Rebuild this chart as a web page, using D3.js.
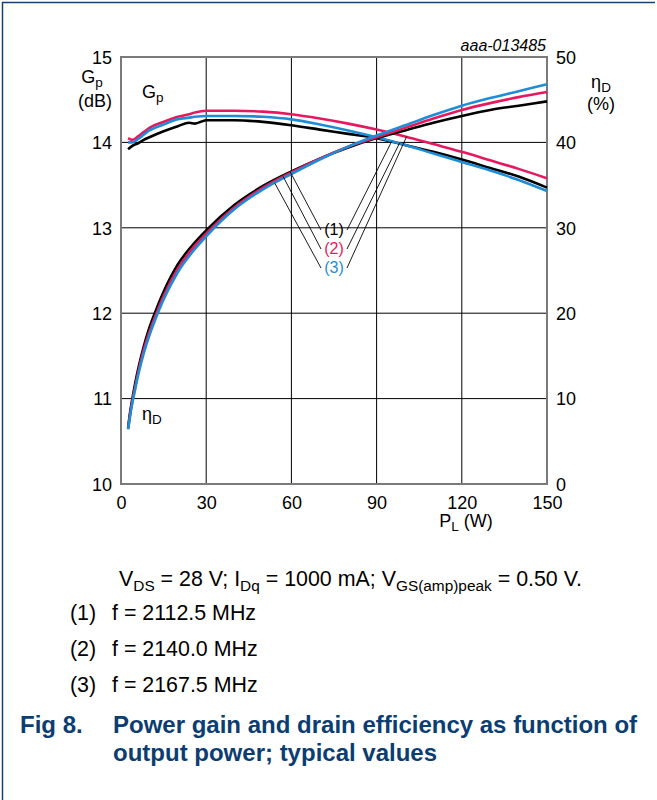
<!DOCTYPE html>
<html>
<head>
<meta charset="utf-8">
<script src="https://cdn.jsdelivr.net/npm/d3@7"></script>
<style>
  html, body { margin: 0; padding: 0; background: #fff; }
  svg { display: block; }
  text { font-family: "Liberation Sans", Arial, sans-serif; }
</style>
</head>
<body>
<svg id="chart" width="657" height="800"></svg>
<script>
// ---- data ----
const xTicks = [0, 30, 60, 90, 120, 150];
const gainTicks = [10, 11, 12, 13, 14, 15];
const effTicks = [0, 10, 20, 30, 40, 50];

const effPower = [2.5, 3, 4, 5, 6, 8, 10, 12, 15, 20, 25, 30, 40, 50, 60, 70, 80, 90, 100, 110, 120, 130, 140, 150];
const eff1 = [6.6, 7.9, 10.0, 11.8, 13.4, 16.1, 18.3, 20.1, 22.5, 25.7, 27.9, 29.7, 32.7, 34.9, 36.6, 38.1, 39.4, 40.5, 41.4, 42.3, 43.1, 43.8, 44.3, 44.8];
const eff2 = [6.5, 7.7, 9.7, 11.4, 13.0, 15.7, 17.8, 19.6, 22.0, 25.2, 27.5, 29.3, 32.4, 34.7, 36.5, 38.1, 39.5, 40.6, 41.7, 42.8, 43.8, 44.6, 45.3, 45.9];
const eff3 = [6.4, 7.5, 9.5, 11.1, 12.7, 15.3, 17.4, 19.2, 21.6, 24.8, 27.1, 29.0, 32.2, 34.5, 36.3, 38.0, 39.5, 40.8, 42.0, 43.2, 44.3, 45.2, 46.0, 46.8];

const gainPower = [2.5, 4, 6, 8, 10, 15, 20, 24, 26, 30, 40, 50, 60, 70, 80, 90, 100, 110, 120, 130, 140, 150];
const gain1 = [13.92, 13.96, 13.99, 14.03, 14.06, 14.13, 14.19, 14.23, 14.22, 14.26, 14.26, 14.24, 14.20, 14.15, 14.10, 14.05, 13.97, 13.89, 13.80, 13.70, 13.60, 13.47];
const gain2 = [14.05, 14.03, 14.07, 14.12, 14.17, 14.24, 14.30, 14.33, 14.35, 14.37, 14.37, 14.36, 14.33, 14.28, 14.22, 14.15, 14.07, 13.98, 13.89, 13.79, 13.69, 13.58];
const gain3 = [14.00, 14.00, 14.04, 14.09, 14.14, 14.21, 14.27, 14.29, 14.30, 14.31, 14.31, 14.30, 14.27, 14.21, 14.14, 14.06, 13.97, 13.87, 13.77, 13.67, 13.56, 13.43];

const seriesNames = ["(1)", "(2)", "(3)"];
const seriesColors = ["#000000", "#e6195f", "#1f8dd6"];
// leader line targets: efficiency curve points (P, %) and gain curve points (P, dB)
const leaderEffP = [59.5, 57.1, 54.2];
const leaderEffV = [36.6, 36.0, 35.2];
const leaderGainP = [95.3, 98.2, 100.6];
const leaderGainV = [14.01, 14.00, 14.07];

const noteLines = [
  ["(1)", "f = 2112.5 MHz"],
  ["(2)", "f = 2140.0 MHz"],
  ["(3)", "f = 2167.5 MHz"]
];

// ---- layout ----
const svg = d3.select("#chart");
const L = 121, R = 547, T = 57, B = 484;
const x = d3.scaleLinear().domain([0, 150]).range([L, R]);
const yG = d3.scaleLinear().domain([10, 15]).range([B, T]);
const yE = d3.scaleLinear().domain([0, 50]).range([B, T]);

// frame border of the figure
const navy = "#17406f";
svg.append("line").attr("x1", 2).attr("x2", 655).attr("y1", 2.5).attr("y2", 2.5).attr("stroke", navy).attr("stroke-width", 1.5);
svg.append("line").attr("x1", 2.5).attr("x2", 2.5).attr("y1", 2).attr("y2", 800).attr("stroke", navy).attr("stroke-width", 1.5);

// grid
const grid = svg.append("g");
xTicks.slice(1, -1).forEach(v => {
  grid.append("line").attr("x1", x(v)).attr("x2", x(v)).attr("y1", T).attr("y2", B).attr("stroke", "#000").attr("stroke-width", 1);
});
gainTicks.slice(1, -1).forEach(v => {
  grid.append("line").attr("x1", L).attr("x2", R).attr("y1", yG(v)).attr("y2", yG(v)).attr("stroke", "#000").attr("stroke-width", 1);
});
svg.append("rect").attr("x", L).attr("y", T).attr("width", R - L).attr("height", B - T)
  .attr("fill", "none").attr("stroke", "#7a7a7a").attr("stroke-width", 2);

// axes via d3 axis generators (labels only)
const fs = 18;
const axB = d3.axisBottom(x).tickValues(xTicks).tickSize(0).tickPadding(0);
const gB = svg.append("g").attr("transform", `translate(0,${B})`).call(axB);
const axLft = d3.axisLeft(yG).tickValues(gainTicks).tickSize(0).tickPadding(0).tickFormat(d3.format("d"));
const gL = svg.append("g").attr("transform", `translate(${L},0)`).call(axLft);
const axRt = d3.axisRight(yE).tickValues(effTicks).tickSize(0).tickPadding(0).tickFormat(d3.format("d"));
const gR = svg.append("g").attr("transform", `translate(${R},0)`).call(axRt);
[gB, gL, gR].forEach(g => {
  g.select(".domain").remove();
  g.selectAll("text").attr("font-size", fs).attr("fill", "#000").attr("font-family", "Liberation Sans, Arial, sans-serif");
});
gB.selectAll("text").attr("dy", null).attr("y", 25);
gL.selectAll("text").attr("x", -9).attr("dy", "0.35em");
gR.selectAll("text").attr("x", 9).attr("dy", "0.35em");

// axis titles
function subText(sel, xx, yy, main, sub, size, anchor) {
  const t = sel.append("text").attr("x", xx).attr("y", yy).attr("font-size", size).attr("text-anchor", anchor || "start");
  t.append("tspan").text(main);
  t.append("tspan").attr("font-size", size * 0.75).attr("dy", size * 0.22).text(sub);
  return t;
}
subText(svg, 92, 83, "G", "p", fs, "middle");
svg.append("text").attr("x", 95).attr("y", 107).attr("font-size", fs).attr("text-anchor", "middle").text("(dB)");
subText(svg, 601, 88, "η", "D", fs, "middle");
svg.append("text").attr("x", 601).attr("y", 110).attr("font-size", fs).attr("text-anchor", "middle").text("(%)");
const plT = subText(svg, 466, 527, "P", "L", fs, "middle");
plT.append("tspan").attr("dy", -fs * 0.22).text(" (W)");
svg.append("text").attr("x", 546).attr("y", 51).attr("font-size", 16).attr("font-style", "italic").attr("text-anchor", "end").text("aaa-013485");

// in-plot curve labels
subText(svg, 142, 98, "G", "p", fs, "start");
subText(svg, 142, 420, "η", "D", fs, "start");

// curves
const effSeries = [eff1, eff2, eff3];
const gainSeries = [gain1, gain2, gain3];
const lineE = d3.line().x(d => x(d[0])).y(d => yE(d[1])).curve(d3.curveMonotoneX);
const lineG = d3.line().x(d => x(d[0])).y(d => yG(d[1])).curve(d3.curveMonotoneX);
const curves = svg.append("g").attr("fill", "none").attr("stroke-width", 2.6).attr("stroke-linejoin", "round");
[0, 1, 2].forEach(i => {
  curves.append("path").attr("d", lineG(gainPower.map((p, j) => [p, gainSeries[i][j]]))).attr("stroke", seriesColors[i]);
});
[0, 1, 2].forEach(i => {
  curves.append("path").attr("d", lineE(effPower.map((p, j) => [p, effSeries[i][j]]))).attr("stroke", seriesColors[i]);
});

// leader lines and labels
const labY = [235, 254, 273];
[0, 1, 2].forEach(i => {
  const ly = labY[i] - 5;
  svg.append("line").attr("x1", 321).attr("y1", ly).attr("x2", x(leaderEffP[i])).attr("y2", yE(leaderEffV[i]))
    .attr("stroke", "#000").attr("stroke-width", 0.9);
  svg.append("line").attr("x1", 347).attr("y1", ly).attr("x2", x(leaderGainP[i])).attr("y2", yG(leaderGainV[i]))
    .attr("stroke", "#000").attr("stroke-width", 0.9);
  svg.append("text").attr("x", 334).attr("y", labY[i]).attr("font-size", 16).attr("text-anchor", "middle")
    .attr("fill", seriesColors[i]).text(seriesNames[i]);
});

// notes
const nfs = 21.4;
const cond = svg.append("text").attr("x", 119).attr("y", 586).attr("font-size", nfs);
cond.append("tspan").text("V");
cond.append("tspan").attr("font-size", nfs * 0.72).attr("dy", 5).text("DS");
cond.append("tspan").attr("dy", -5).text(" = 28 V; I");
cond.append("tspan").attr("font-size", nfs * 0.72).attr("dy", 5).text("Dq");
cond.append("tspan").attr("dy", -5).text(" = 1000 mA; V");
cond.append("tspan").attr("font-size", nfs * 0.72).attr("dy", 5).text("GS(amp)peak");
cond.append("tspan").attr("dy", -5).text(" = 0.50 V.");
noteLines.forEach((n, i) => {
  const yy = 620 + i * 36;
  svg.append("text").attr("x", 70).attr("y", yy).attr("font-size", nfs).text(n[0]);
  svg.append("text").attr("x", 112).attr("y", yy).attr("font-size", nfs).text(n[1]);
});

// caption
const capColor = "#0b3d72";
const cfs = 24;
svg.append("text").attr("x", 20).attr("y", 733).attr("font-size", cfs).attr("font-weight", "bold").attr("fill", capColor).text("Fig 8.");
svg.append("text").attr("x", 113).attr("y", 733).attr("font-size", cfs).attr("font-weight", "bold").attr("fill", capColor).text("Power gain and drain efficiency as function of");
svg.append("text").attr("x", 113).attr("y", 761).attr("font-size", cfs).attr("font-weight", "bold").attr("fill", capColor).text("output power; typical values");
</script>
</body>
</html>
